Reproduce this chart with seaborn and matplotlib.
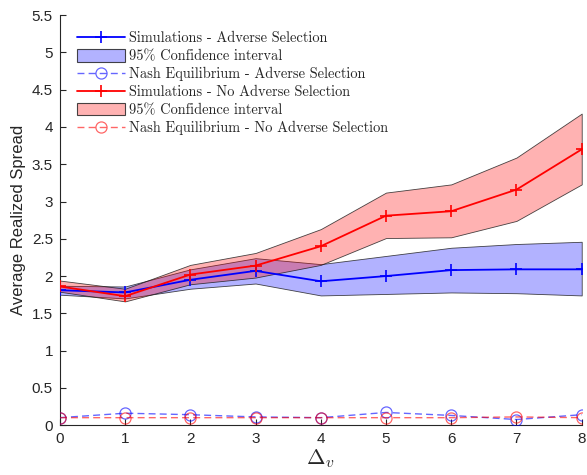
import matplotlib
matplotlib.use("Agg")
import matplotlib.pyplot as plt
import seaborn as sns
import numpy as np
import pandas as pd
from matplotlib.patches import Patch
from matplotlib.lines import Line2D

delta_v = [0, 1, 2, 3, 4, 5, 6, 7, 8]

sim_as = [1.81, 1.78, 1.95, 2.07, 1.93, 2.00, 2.08, 2.09, 2.09]
sim_as_lo = [1.75, 1.70, 1.83, 1.90, 1.74, 1.76, 1.78, 1.77, 1.74]
sim_as_hi = [1.87, 1.86, 2.09, 2.24, 2.16, 2.27, 2.38, 2.43, 2.46]

sim_nas = [1.86, 1.73, 2.02, 2.14, 2.40, 2.81, 2.87, 3.16, 3.70]
sim_nas_lo = [1.79, 1.66, 1.89, 1.98, 2.15, 2.51, 2.52, 2.74, 3.23]
sim_nas_hi = [1.94, 1.83, 2.15, 2.31, 2.63, 3.12, 3.23, 3.59, 4.18]

nash_as = [0.10, 0.16, 0.14, 0.11, 0.10, 0.17, 0.13, 0.075, 0.14]
nash_nas = [0.10, 0.10, 0.10, 0.10, 0.10, 0.10, 0.10, 0.11, 0.10]

labels = ["Simulations - Adverse Selection", "95% Confidence interval",
          "Nash Equilibrium - Adverse Selection", "Simulations - No Adverse Selection",
          "95% Confidence interval", "Nash Equilibrium - No Adverse Selection"]

sns.set_style("white")
plt.rcParams['font.family'] = ['Liberation Sans', 'DejaVu Sans']
plt.rcParams['mathtext.fontset'] = 'cm'

fig = plt.figure(figsize=(5.87, 4.75), dpi=100)
ax = fig.add_axes([0.102, 0.105, 0.889, 0.863])

df = pd.DataFrame({"dv": delta_v, "sim_as": sim_as, "sim_nas": sim_nas,
                   "nash_as": nash_as, "nash_nas": nash_nas})

blue = "#0000ff"
red = "#ff0000"
edge = (0.1, 0.1, 0.1, 0.8)

ax.fill_between(delta_v, sim_as_lo, sim_as_hi, facecolor=(0, 0, 1, 0.3),
                edgecolor=edge, linewidth=0.6, zorder=1)
ax.fill_between(delta_v, sim_nas_lo, sim_nas_hi, facecolor=(1, 0, 0, 0.3),
                edgecolor=edge, linewidth=0.6, zorder=1)

sim_kw = dict(marker="+", markersize=9, markeredgewidth=1.2, linewidth=1.3)
nash_kw = dict(marker="o", markersize=8, markerfacecolor="none",
               markeredgewidth=0.9, linestyle=(0, (5, 3)), linewidth=1.0, alpha=0.6)

sns.lineplot(data=df, x="dv", y="sim_as", ax=ax, color=blue,
             markeredgecolor=blue, zorder=3, **sim_kw)
sns.lineplot(data=df, x="dv", y="nash_as", ax=ax, color=blue,
             markeredgecolor=blue, zorder=3, **nash_kw)
sns.lineplot(data=df, x="dv", y="sim_nas", ax=ax, color=red,
             markeredgecolor=red, zorder=4, **sim_kw)
sns.lineplot(data=df, x="dv", y="nash_nas", ax=ax, color=red,
             markeredgecolor=red, zorder=3, **nash_kw)

ax.set_xlim(0, 8)
ax.set_ylim(0, 5.5)
ax.set_xticks(range(0, 9))
ax.set_yticks(np.arange(0, 5.51, 0.5))
ax.set_yticklabels(["0", "0.5", "1", "1.5", "2", "2.5", "3", "3.5", "4", "4.5", "5", "5.5"])
ax.tick_params(direction="in", length=4, width=0.8, colors="#262626",
               labelsize=11, pad=5, bottom=True, left=True)
for s in ["top", "right"]:
    ax.spines[s].set_visible(False)
for s in ["left", "bottom"]:
    ax.spines[s].set_color("#262626")
    ax.spines[s].set_linewidth(0.8)

ax.set_xlabel(r"$\Delta_v$", fontsize=16, color="#262626", labelpad=1)
ax.set_ylabel("Average Realized Spread", fontsize=12, color="#262626", labelpad=4)

handles = [
    Line2D([], [], color=blue, markeredgecolor=blue, **sim_kw),
    Patch(facecolor=(0, 0, 1, 0.3), edgecolor=edge, linewidth=0.8),
    Line2D([], [], color=blue, markeredgecolor=blue, **nash_kw),
    Line2D([], [], color=red, markeredgecolor=red, **sim_kw),
    Patch(facecolor=(1, 0, 0, 0.3), edgecolor=edge, linewidth=0.8),
    Line2D([], [], color=red, markeredgecolor=red, **nash_kw),
]
leg = ax.legend(handles, labels, loc="upper left", bbox_to_anchor=(0.033, 0.961),
                frameon=False, prop={"family": "cmr10", "size": 10.4},
                handlelength=3.3, handleheight=0.95, labelspacing=0.26,
                handletextpad=0.3, borderaxespad=0.0, borderpad=0.0)

fig.savefig("out.png", dpi=100)
